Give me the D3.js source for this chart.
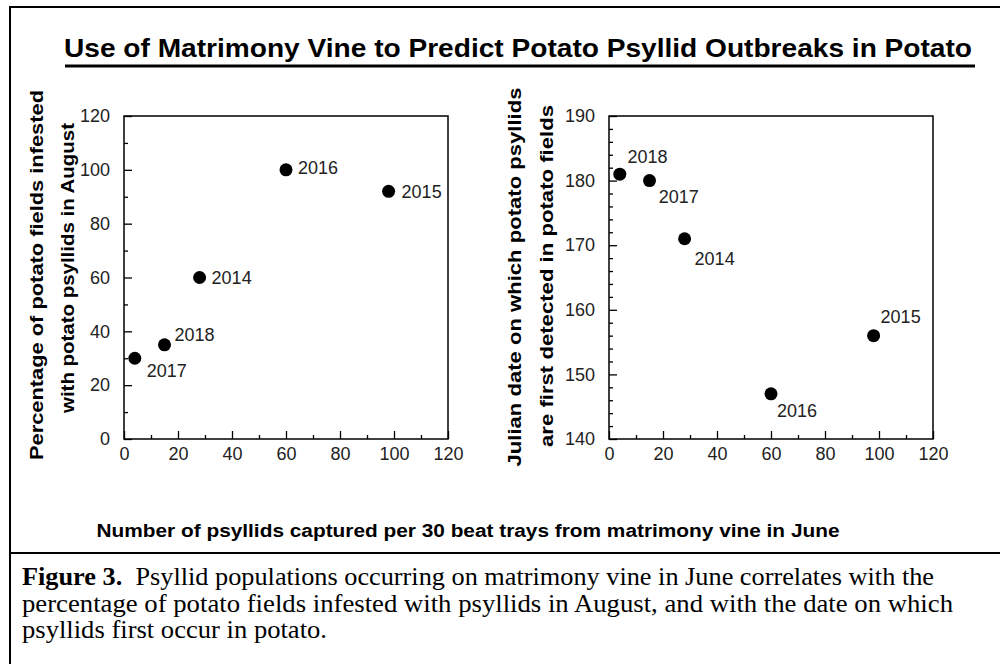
<!DOCTYPE html>
<html>
<head>
<meta charset="utf-8">
<script src="https://cdn.jsdelivr.net/npm/d3@7"></script>
<style>
  body { margin: 0; background: #fff; }
  svg { display: block; }
  .tick text { fill: #222; }
</style>
</head>
<body>
<div id="chart"></div>
<script>
// data
var years = ["2014", "2015", "2016", "2017", "2018"];
var psyllidsJune = [28, 98, 60, 4, 15];          // x, both panels
var pctFieldsInfested = [60, 92, 100, 30, 35];   // left panel y
var julianFirstDetected = [171, 156, 147, 181, 180]; // right panel y

var xTicks = [0, 20, 40, 60, 80, 100, 120];
var xMinorTicks = [10, 30, 50, 70, 90, 110];
var leftYTicks = [0, 20, 40, 60, 80, 100, 120];
var leftYMinorTicks = [10, 30, 50, 70, 90, 110];
var rightYTicks = [140, 150, 160, 170, 180, 190];
var rightYMinorTicks = [142, 144, 146, 148, 152, 154, 156, 158, 162, 164, 166, 168,
  172, 174, 176, 178, 182, 184, 186, 188];

var captionLines = [
  ["Figure 3.", "  Psyllid populations occurring on matrimony vine in June correlates with the"],
  ["", "percentage of potato fields infested with psyllids in August, and with the date on which"],
  ["", "psyllids first occur in potato."]
];
var captionWidths = [912, 931, 305];

// where each year label sits relative to its point (layout only)
var leftLabelOffset = { "2014": [12, 0], "2015": [13, 0], "2016": [12, -2], "2017": [12, 12], "2018": [10, -10] };
var rightLabelOffset = { "2014": [10, 20], "2015": [7, -19], "2016": [6, 17], "2017": [39, 22], "2018": [-22, -24] };

var svgWidth = 1000;
var svgHeight = 664;

var svg = d3.select("#chart")
  .append("svg")
  .attr("width", svgWidth)
  .attr("height", svgHeight)
  .style("font-family", "'Liberation Sans', Arial, sans-serif");

// outer frame and caption separator
svg.append("rect")
  .attr("x", 10).attr("y", 7)
  .attr("width", 1000).attr("height", 700)
  .attr("fill", "none").attr("stroke", "#000").attr("stroke-width", 2);

svg.append("line")
  .attr("x1", 10).attr("x2", 1000)
  .attr("y1", 553).attr("y2", 553)
  .attr("stroke", "#000").attr("stroke-width", 2);

// title
svg.append("text")
  .attr("x", 518).attr("y", 57)
  .attr("text-anchor", "middle")
  .attr("font-size", 25).attr("font-weight", "bold")
  .attr("textLength", 908).attr("lengthAdjust", "spacingAndGlyphs")
  .text("Use of Matrimony Vine to Predict Potato Psyllid Outbreaks in Potato");

svg.append("line")
  .attr("x1", 65).attr("x2", 975)
  .attr("y1", 66).attr("y2", 66)
  .attr("stroke", "#000").attr("stroke-width", 3);

var plotW = 324;
var plotH = 323;
var plotTop = 116;

function drawPanel(left, yValues, yDomain, yTicks, yMinor, offsets) {
  var g = svg.append("g").attr("transform", `translate(${left}, ${plotTop})`);

  var x = d3.scaleLinear().domain([0, 120]).range([0, plotW]);
  var y = d3.scaleLinear().domain(yDomain).range([plotH, 0]);

  // minor ticks first
  g.append("g")
    .attr("transform", `translate(0, ${plotH})`)
    .call(d3.axisBottom(x).tickValues(xMinorTicks).tickSize(-4).tickFormat(""))
    .call(a => a.select(".domain").remove());
  g.append("g")
    .call(d3.axisLeft(y).tickValues(yMinor).tickSize(-4).tickFormat(""))
    .call(a => a.select(".domain").remove());

  // major ticks with labels
  g.append("g")
    .attr("transform", `translate(0, ${plotH})`)
    .call(d3.axisBottom(x).tickValues(xTicks).tickSize(-8).tickPadding(8))
    .call(a => a.select(".domain").remove())
    .selectAll("text")
    .attr("font-size", 18)
    .style("font-family", "'Liberation Sans', Arial, sans-serif");

  g.append("g")
    .call(d3.axisLeft(y).tickValues(yTicks).tickSize(-8).tickPadding(14))
    .call(a => a.select(".domain").remove())
    .selectAll("text")
    .attr("font-size", 18)
    .style("font-family", "'Liberation Sans', Arial, sans-serif");

  g.selectAll(".tick line").attr("stroke", "#000").attr("stroke-width", 1.3);

  // plot box
  g.append("rect")
    .attr("width", plotW).attr("height", plotH)
    .attr("fill", "none").attr("stroke", "#000").attr("stroke-width", 1.5);

  var pts = years.map((yr, i) => ({ year: yr, x: psyllidsJune[i], y: yValues[i] }));

  g.selectAll("circle")
    .data(pts)
    .enter()
    .append("circle")
    .attr("cx", d => x(d.x))
    .attr("cy", d => y(d.y))
    .attr("r", 6.5)
    .attr("fill", "#000");

  g.selectAll(".yr")
    .data(pts)
    .enter()
    .append("text")
    .attr("class", "yr")
    .attr("x", d => x(d.x) + offsets[d.year][0])
    .attr("y", d => y(d.y) + offsets[d.year][1])
    .attr("dy", "0.36em")
    .attr("font-size", 18)
    .attr("fill", "#222")
    .text(d => d.year);
}

drawPanel(124, pctFieldsInfested, [0, 120], leftYTicks, leftYMinorTicks, leftLabelOffset);
drawPanel(609, julianFirstDetected, [140, 190], rightYTicks, rightYMinorTicks, rightLabelOffset);

// y axis titles (two lines each, rotated)
function yTitle(cx, cy, text, len) {
  svg.append("text")
    .attr("transform", `translate(${cx}, ${cy}) rotate(-90)`)
    .attr("text-anchor", "middle")
    .attr("font-size", 19).attr("font-weight", "bold")
    .attr("textLength", len).attr("lengthAdjust", "spacingAndGlyphs")
    .text(text);
}
yTitle(43, 275, "Percentage of potato fields infested", 370);
yTitle(74, 268, "with potato psyllids in August", 290);
yTitle(521, 277, "Julian date on which potato psyllids", 379);
yTitle(553, 276, "are first detected in potato fields", 342);

// shared x axis title
svg.append("text")
  .attr("x", 468).attr("y", 537)
  .attr("text-anchor", "middle")
  .attr("font-size", 18).attr("font-weight", "bold")
  .attr("textLength", 743).attr("lengthAdjust", "spacingAndGlyphs")
  .text("Number of psyllids captured per 30 beat trays from matrimony vine in June");

// caption
var cap = svg.append("g")
  .style("font-family", "'Liberation Serif', 'Times New Roman', Times, serif")
  .attr("font-size", 26);

cap.selectAll("text")
  .data(captionLines)
  .enter()
  .append("text")
  .attr("x", 22)
  .attr("y", (d, i) => 585 + i * 26.5)
  .attr("xml:space", "preserve")
  .attr("textLength", (d, i) => captionWidths[i])
  .attr("lengthAdjust", "spacingAndGlyphs")
  .each(function(d) {
    var t = d3.select(this);
    if (d[0]) t.append("tspan").attr("font-weight", "bold").text(d[0]);
    t.append("tspan").text(d[1]);
  });
</script>
</body>
</html>
